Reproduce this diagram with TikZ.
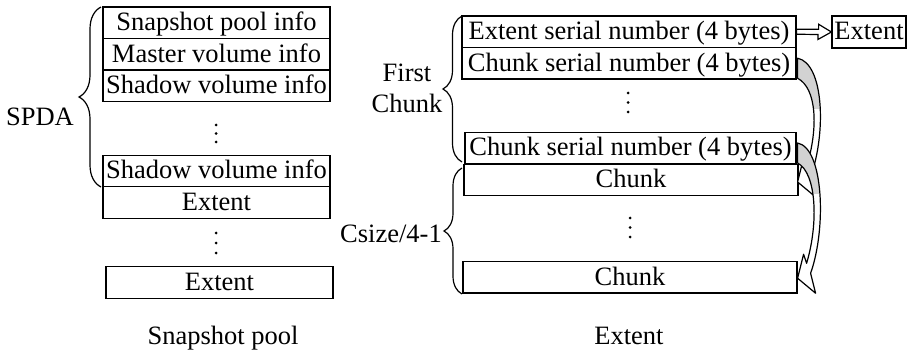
\documentclass[tikz,border=0pt]{standalone}
\usepackage{fontspec}
\setmainfont{Liberation Serif}
\usetikzlibrary{calc,decorations.pathreplacing}
\newcommand\myCurvArrow[2]{%
  \draw[line width=1.2pt, line join=round, fill=white,
        path picture={\fill[gray!35] ($(#1)+(-2,-12)$) rectangle ($(#1)+(40,46)$);}]
    ($(#1)+(1,-5)$) .. controls ($(#1)+(27,0)$) and ($(#2)+(29,-50)$) .. ($(#2)+(13,-5)$)
    -- ($(#2)+(18,15)$) -- (#2) -- ($(#2)+(6,-24)$) -- ($(#2)+(9,-15)$)
    .. controls ($(#2)+(21,-55)$) and ($(#1)+(20,25)$) .. ($(#1)+(1,15)$) -- cycle;
}
\begin{document}
\begin{tikzpicture}[x=1pt,y=-1pt,
  txt/.style={font=\fontsize{26.5}{31}\selectfont},
  box/.style={txt, draw, line width=1.2pt, rectangle, inner sep=0pt,
              minimum height=31.5pt, text height=19pt, text depth=3pt},
  lbl/.style={txt, inner sep=0pt, text height=19pt, text depth=3pt},
  brc/.style={draw, line width=1.2pt, decorate, decoration={brace, amplitude=#1}},
  brc/.default=20,
  dotv/.style={fill=black}]
\useasboundingbox (0,0) rectangle (909,355);

% ---------- Snapshot pool ----------
\node[box, minimum width=227pt] (sp)  at (216.5,22.75)  {Snapshot pool info};
\node[box, minimum width=227pt] (mv)  at (216.5,54.25)  {Master volume info};
\node[box, minimum width=227pt] (sv1) at (216.5,85.75)  {Shadow volume info};
\node[box, minimum width=227pt] (sv2) at (216.5,171)    {Shadow volume info};
\node[box, minimum width=227pt] (ex1) at (216.5,202.5)  {Extent};
\node[box, minimum width=227pt] (ex2) at (219.5,282.5)  {Extent};
\fill[dotv] (216,125) circle (1.5) (216,133.5) circle (1.5) (216,142) circle (1.5);
\fill[dotv] (216,233) circle (1.5) (216,243) circle (1.5) (216,253) circle (1.5);
\node[lbl] (spda) at (40,118) {SPDA};
\draw[brc=22] (101,187) -- (101,7);
\node[lbl] (lpool) at (223,336) {Snapshot pool};

% ---------- Extent ----------
\node[box, minimum width=334pt] (esn)  at (629,31.75)  {Extent serial number (4 bytes)};
\node[box, minimum width=334pt] (csn1) at (629,63.25)  {Chunk serial number (4 bytes)};
\node[box, minimum width=331pt] (csn2) at (630.5,148)  {Chunk serial number (4 bytes)};
\node[box, minimum width=334pt] (ch1)  at (631,180)    {Chunk};
\node[box, minimum width=334pt] (ch2)  at (630,277.25) {Chunk};
\node[box, minimum width=74pt, minimum height=32pt] (extb) at (869,32) {Extent};
\fill[dotv] (628,93) circle (1.5) (628,102.5) circle (1.5) (628,112) circle (1.5);
\fill[dotv] (630,218) circle (1.5) (630,227.5) circle (1.5) (630,237) circle (1.5);

\node[txt, inner sep=0pt, align=center] (fc) at (407,88.6) {First\\Chunk};
\draw[brc=19] (462,162) -- (462,16);
\node[lbl] (cs) at (391,234) {Csize/4-1};
\draw[brc=18] (462,294) -- (462,168);
\node[lbl] (lext) at (629,336) {Extent};

% hollow block arrow to the Extent box
\draw[line width=1.2pt, fill=white]
  ($(esn.east)+(0,-2.5)$) -- ++(22,0) -- ++(0,-5) -- (extb.west)
  -- ++(-13.5,7.5) -- ++(0,-5) -- ($(esn.east)+(0,2.5)$) -- cycle;

% curved block arrows
\coordinate (s1) at (csn1.east);
\coordinate (t1) at ($(ch1.east)+(-1,2)$);
\coordinate (s2) at (csn2.east);
\coordinate (t2) at ($(ch2.east)+(0,1)$);
\myCurvArrow{s1}{t1}
\myCurvArrow{s2}{t2}
\end{tikzpicture}
\end{document}
